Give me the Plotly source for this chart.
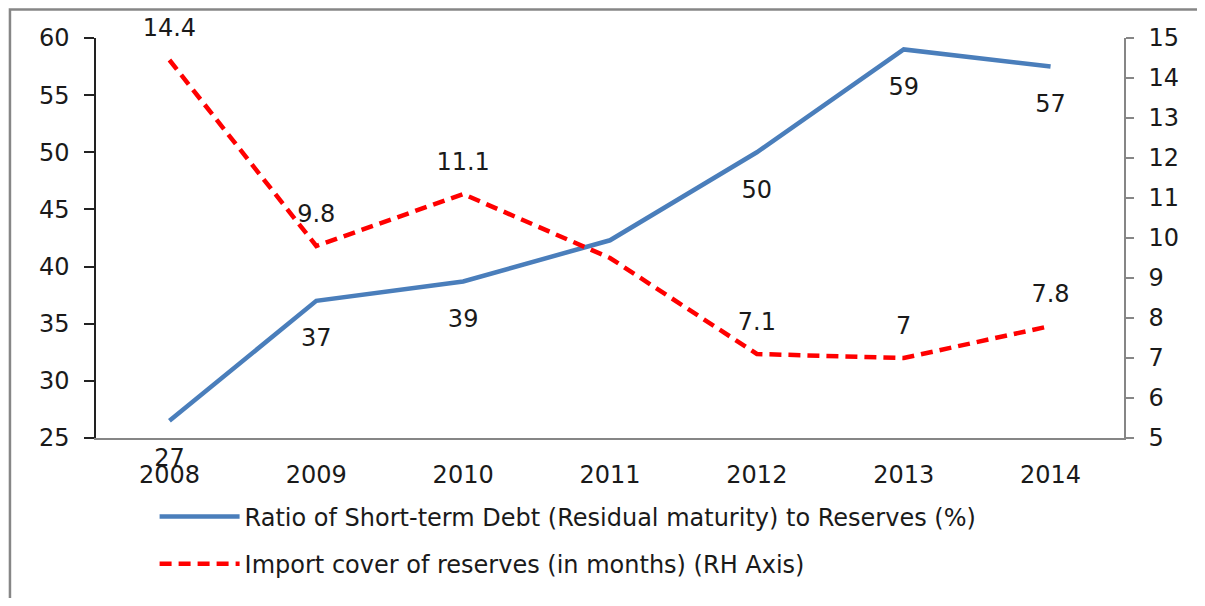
import plotly.graph_objects as go

years = ["2008", "2009", "2010", "2011", "2012", "2013", "2014"]
debt_ratio = [26.5, 37.0, 38.7, 42.3, 50.0, 59.0, 57.5]
debt_labels = ["27", "37", "39", "", "50", "59", "57"]
import_cover = [14.45, 9.8, 11.1, 9.5, 7.1, 7.0, 7.8]
cover_labels = ["14.4", "9.8", "11.1", "", "7.1", "7", "7.8"]

name_debt = "Ratio of Short-term Debt (Residual maturity) to Reserves (%)"
name_cover = "Import cover of reserves (in months) (RH Axis)"

FONT = "DejaVu Sans"
FS = 24
fig = go.Figure()
fig.add_trace(go.Scatter(
    x=years, y=debt_ratio, name=name_debt, legendgroup="a",
    mode="lines+markers+text", text=debt_labels, textposition="bottom center",
    textfont=dict(size=FS, color="#1a1a1a", family=FONT),
    marker=dict(size=42, color="rgba(0,0,0,0)"), cliponaxis=False,
    line=dict(color="#4A7EBB", width=4.5),
))
fig.add_trace(go.Scatter(
    x=years, y=import_cover, name=name_cover, legendgroup="b", yaxis="y2",
    mode="lines+markers+text", text=cover_labels, textposition="top center",
    textfont=dict(size=FS, color="#1a1a1a", family=FONT),
    marker=dict(size=28, color="rgba(0,0,0,0)"), cliponaxis=False,
    line=dict(color="#FF0000", width=4.5, dash="12px,7px"),
))

fig.update_layout(
    width=1189, height=590,
    margin=dict(l=88, r=73, t=30, b=158),
    paper_bgcolor="white", plot_bgcolor="white",
    font=dict(family=FONT, size=FS, color="#1a1a1a"),
    xaxis=dict(
        type="category", range=[-0.5, 6.5], showgrid=False,
        showline=True, linecolor="#868686", linewidth=2,
        ticks="outside", ticklen=14, tickcolor="rgba(0,0,0,0)",
        tickfont=dict(size=FS),
    ),
    yaxis=dict(
        range=[25, 60], dtick=5, showgrid=False, zeroline=False,
        showline=True, linecolor="#222222", linewidth=1.5,
        ticks="outside", ticklen=10, tickcolor="#222222", tickwidth=1.5,
        ticklabelstandoff=10, tickfont=dict(size=FS),
    ),
    yaxis2=dict(
        range=[5, 15], dtick=1, overlaying="y", side="right",
        showgrid=False, zeroline=False,
        showline=True, linecolor="#868686", linewidth=1.5,
        ticks="outside", ticklen=8, tickcolor="#868686", tickwidth=1.5,
        ticklabelstandoff=10, tickfont=dict(size=FS),
    ),
    showlegend=True,
    legend=dict(
        x=0.057, y=-0.141, xanchor="left", yanchor="top",
        orientation="v", traceorder="grouped", tracegroupgap=13,
        font=dict(size=FS, family=FONT), itemwidth=80,
        bgcolor="rgba(0,0,0,0)",
    ),
    shapes=[dict(
        type="rect", xref="paper", yref="paper",
        x0=-0.0837, x1=1.3, y0=-0.6, y1=1.071,
        line=dict(color="#868686", width=2.5), layer="below",
    )],
)

fig.write_html("out.html", config={"displayModeBar": False})
